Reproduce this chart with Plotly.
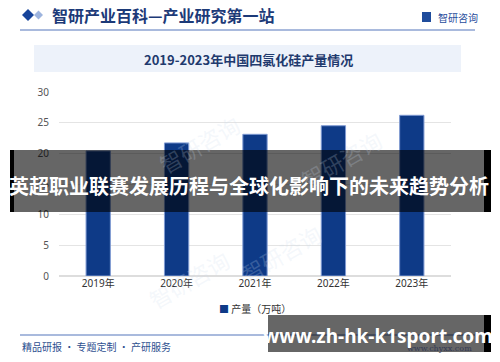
import plotly.graph_objects as go

# ---- data ----
years = ["2019年", "2020年", "2021年", "2022年", "2023年"]
output = [20.4, 21.7, 23.1, 24.5, 26.2]
series_name = "产量（万吨）"
y_ticks = [0, 5, 10, 15, 20, 25, 30]

header_text = "智研产业百科—产业研究第一站"
title_text = "2019-2023年中国四氯化硅产量情况"
footer_text = "精品研报 · 专题定制 · 产研服务"
overlay_text = "英超职业联赛发展历程与全球化影响下的未来趋势分析"
site_text = "www.zh-hk-k1sport.com"

W, H = 500, 362
L, R, T, B = 59, 49, 92, 86
PW, PH = W - L - R, H - T - B


def px(x):
    return (x - L) / PW


def py(y):
    return (H - B - y) / PH


CJK = "Noto Sans CJK SC"
BAR_COLOR = "#0e3a87"

fig = go.Figure()
fig.add_trace(go.Bar(
    x=years, y=output, name=series_name, showlegend=False,
    marker=dict(color=BAR_COLOR, line=dict(color="#7f9ad2", width=1)),
))

shapes = []
annotations = []

# faint watermarks
for (wx, wy) in [(150, 105), (390, 120), (140, 318), (330, 292)]:
    annotations.append(dict(x=px(wx), y=py(wy), xref="paper", yref="paper", text="智研咨询",
                            showarrow=False, textangle=-30,
                            font=dict(family=CJK, size=22, color="rgba(205,220,238,0.22)")))

# header
shapes.append(dict(type="path", xref="paper", yref="paper", layer="above",
                   path=f"M {px(22)} {py(15)} L {px(28)} {py(9)} L {px(34)} {py(15)} L {px(28)} {py(21)} Z",
                   fillcolor="#17449a", line=dict(width=0)))
shapes.append(dict(type="path", xref="paper", yref="paper", layer="above",
                   path=f"M {px(34)} {py(15)} L {px(38.5)} {py(10.5)} L {px(43)} {py(15)} L {px(38.5)} {py(19.5)} Z",
                   fillcolor="#9db4de", line=dict(width=0)))
annotations.append(dict(x=px(50), y=py(15), xref="paper", yref="paper", xanchor="left", yanchor="middle",
                        text=header_text, showarrow=False,
                        font=dict(family=CJK, size=16, color="#1c3a78", weight="bold")))
shapes.append(dict(type="line", xref="paper", yref="paper", x0=px(20), x1=px(475), y0=py(30), y1=py(30),
                   line=dict(color="#5577bb", width=1.2)))
# logo
shapes.append(dict(type="rect", xref="paper", yref="paper", x0=px(422), x1=px(431), y0=py(12), y1=py(22),
                   fillcolor="#1f4c9c", line=dict(width=0)))
annotations.append(dict(x=px(436), y=py(17), xref="paper", yref="paper", xanchor="left", yanchor="middle",
                        text="智研咨询", showarrow=False,
                        font=dict(family=CJK, size=10, color="#1f4c9c")))

# title box
shapes.append(dict(type="rect", xref="paper", yref="paper", x0=px(34), x1=px(461), y0=py(72), y1=py(45),
                   fillcolor="#edf2fa", line=dict(width=0), layer="below"))
annotations.append(dict(x=px(248), y=py(59), xref="paper", yref="paper", xanchor="center", yanchor="middle",
                        text=title_text, showarrow=False,
                        font=dict(family=CJK, size=13, color="#1f3a6e", weight="bold")))

# legend (as text key)
annotations.append(dict(x=px(217), y=py(308), xref="paper", yref="paper", xanchor="left", yanchor="middle",
                        text=f"<span style='color:{BAR_COLOR}'>■</span> {series_name}", showarrow=False,
                        font=dict(family=CJK, size=10, color="#333333")))

# footer
shapes.append(dict(type="line", xref="paper", yref="paper", x0=px(20), x1=px(475), y0=py(335), y1=py(335),
                   line=dict(color="#5577bb", width=1.2)))
annotations.append(dict(x=px(20), y=py(346), xref="paper", yref="paper", xanchor="left", yanchor="middle",
                        text=footer_text, showarrow=False,
                        font=dict(family=CJK, size=10, color="#2d4f8f")))
annotations.append(dict(x=px(474), y=py(348), xref="paper", yref="paper", xanchor="right", yanchor="middle",
                        text="www.chyxx.com", showarrow=False,
                        font=dict(family="DejaVu Serif", size=8, color="#333a55")))

# overlay band
shapes.append(dict(type="rect", xref="paper", yref="paper", layer="above", x0=px(10), x1=px(491),
                   y0=py(212), y1=py(150), fillcolor="rgba(0,0,0,0.6)", line=dict(width=0)))
shapes.append(dict(type="rect", xref="paper", yref="paper", layer="above", x0=px(10), x1=px(14),
                   y0=py(212), y1=py(150), fillcolor="#000000", line=dict(width=0)))
shapes.append(dict(type="rect", xref="paper", yref="paper", layer="above", x0=px(484), x1=px(491),
                   y0=py(212), y1=py(150), fillcolor="#000000", line=dict(width=0)))
annotations.append(dict(x=px(249), y=py(185), xref="paper", yref="paper", xanchor="center", yanchor="middle",
                        text=overlay_text, showarrow=False,
                        font=dict(family=CJK, size=20, color="#ffffff", weight="bold")))

# bottom right overlay
shapes.append(dict(type="rect", xref="paper", yref="paper", layer="above", x0=px(268), x1=px(491),
                   y0=py(352), y1=py(315), fillcolor="rgba(0,0,0,0.6)", line=dict(width=0)))
shapes.append(dict(type="rect", xref="paper", yref="paper", layer="above", x0=px(484), x1=px(491),
                   y0=py(352), y1=py(315), fillcolor="#000000", line=dict(width=0)))
annotations.append(dict(x=px(378), y=py(336), xref="paper", yref="paper", xanchor="center", yanchor="middle",
                        text=site_text, showarrow=False,
                        font=dict(family="Noto Sans", size=19, color="#ffffff", weight="bold")))

fig.update_layout(
    width=W, height=H,
    margin=dict(l=L, r=R, t=T, b=B, autoexpand=False),
    paper_bgcolor="#ffffff", plot_bgcolor="#ffffff",
    bargap=0.69,
    showlegend=False,
    xaxis=dict(showgrid=False, showline=False, ticks="",
               tickfont=dict(family="Noto Sans, " + CJK, size=10, color="#333333")),
    yaxis=dict(range=[0, 30], tickvals=y_ticks, showgrid=True, gridcolor="#e4e4e4", gridwidth=1,
               zeroline=True, zerolinecolor="#dddddd", showline=False, ticks="", ticklabelstandoff=9,
               tickfont=dict(family="Noto Sans", size=10, color="#555555")),
    shapes=shapes, annotations=annotations,
)

fig.write_html("out.html")
